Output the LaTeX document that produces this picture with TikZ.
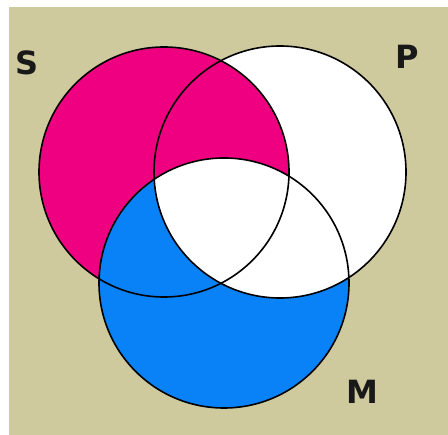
\documentclass[tikz,border=0pt]{standalone}
\usepackage{fontspec}
\setsansfont{DejaVu Sans}
\usepackage{tikz}
\usetikzlibrary{positioning}
\usepackage{xcolor}
\definecolor{bgkhaki}{RGB}{207,201,158}
\definecolor{vmagenta}{RGB}{238,0,128}
\definecolor{vblue}{RGB}{8,130,246}

\tikzset{
  rim/.style={draw=black, line width=1.6pt},
  setlabel/.style={font=\sffamily\bfseries\fontsize{32}{32}\selectfont, text=black!90, inner sep=0pt}
}

\begin{document}
\begin{tikzpicture}[x=1pt, y=-1pt]
\useasboundingbox (0,0) rectangle (448,435);
\fill[white] (0,0) rectangle (448,435);
\fill[bgkhaki] (9,7) rectangle (448,435);
% circle centres
\coordinate (cS) at (164,172);
\coordinate (cP) at (280,172);
\coordinate (cM) at (224,283);
% shading
\fill[white] (cP) circle (126);
\fill[vmagenta] (cS) circle (125);
\fill[vblue] (cM) circle (125);
\begin{scope}
\clip (cP) circle (126);
\fill[white] (cM) circle (125);
\end{scope}
% outlines
\draw[rim] (cS) circle (125);
\draw[rim] (cP) circle (126);
\draw[rim] (cM) circle (125);
% labels
\node[setlabel] (labS) at (27,63) {S};
\node[setlabel] (labP) at (407,57) {P};
\node[setlabel] (labM) at (362,392) {M};
\end{tikzpicture}
\end{document}
